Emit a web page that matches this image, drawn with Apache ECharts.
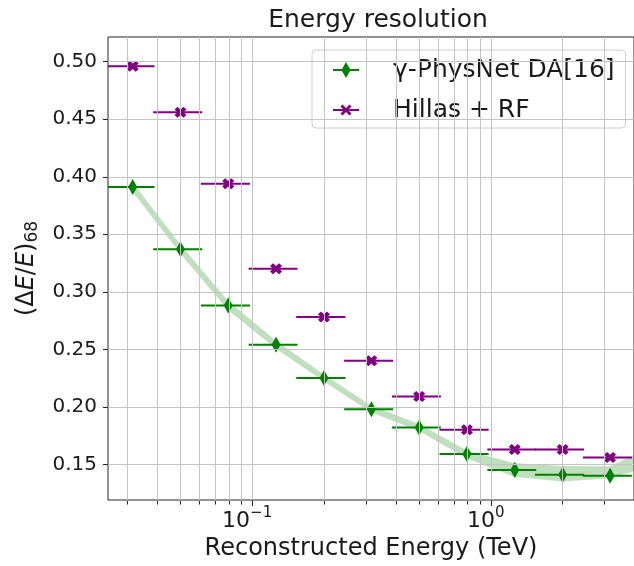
<!DOCTYPE html>
<html>
<head>
<meta charset="utf-8">
<title>Energy resolution</title>
<script src="https://cdn.jsdelivr.net/npm/echarts@6/dist/echarts.min.js"></script>
<style>
  html, body { margin: 0; padding: 0; background: #fff; }
  #main { width: 634px; height: 566px; }
</style>
</head>
<body>
<div id="main"></div>
<script>
// bin centres and ends of the horizontal error bars (TeV)
var energy     = [0.0316, 0.0501, 0.0794, 0.126, 0.200, 0.316, 0.501, 0.794, 1.26, 2.00, 3.16];
var energyLow  = [0.0243, 0.0385, 0.0610, 0.0967, 0.153, 0.243, 0.385, 0.610, 0.967, 1.53, 2.43];
var energyHigh = [0.0390, 0.0618, 0.0979, 0.155, 0.246, 0.390, 0.618, 0.979, 1.55, 2.46, 3.90];

// (dE/E)68 per bin
var physNet  = [0.391, 0.337, 0.288, 0.254, 0.225, 0.198, 0.182, 0.159, 0.145, 0.141, 0.140];
var hillasRF = [0.496, 0.456, 0.394, 0.320, 0.278, 0.240, 0.209, 0.180, 0.163, 0.163, 0.156];

// shaded band around the PhysNet curve (last point is past the right edge)
var bandEnergy = [0.0316, 0.0501, 0.0794, 0.126, 0.200, 0.316, 0.501, 0.794, 1.26, 2.00, 3.16, 5.01];
var bandLow    = [0.3870, 0.3330, 0.2840, 0.2505, 0.2220, 0.1950, 0.1790, 0.1550, 0.1390, 0.1350, 0.1378, 0.1500];
var bandHigh   = [0.3950, 0.3410, 0.2920, 0.2575, 0.2280, 0.2010, 0.1850, 0.1620, 0.1510, 0.1485, 0.1484, 0.1680];

// ticks
var xMajor = [0.1, 1];
var xMinor = [0.03, 0.04, 0.05, 0.06, 0.07, 0.08, 0.09, 0.2, 0.3, 0.4, 0.5, 0.6, 0.7, 0.8, 0.9, 2, 3];
var xGrid  = [0.03, 0.04, 0.05, 0.06, 0.07, 0.08, 0.09, 0.1, 0.2, 0.3, 0.4, 0.5, 0.6, 0.7, 0.8, 0.9, 1, 2, 3];
var yTicks = [0.15, 0.20, 0.25, 0.30, 0.35, 0.40, 0.45, 0.50];

var FONT = 'DejaVu Sans';
var INK = '#1a1a1a';
var GRIDC = '#c4c4c4';
var GREEN = '#008000';
var PURPLE = '#800080';

var diamond = 'path://M5,0L10,10L5,20L0,10Z';
var cross = 'path://M0,2.5L2.5,0L5,2.5L7.5,0L10,2.5L7.5,5L10,7.5L7.5,10L5,7.5L2.5,10L0,7.5L2.5,5Z';

function barSeries(name, low, high, vals, color) {
  return {
    name: name, type: 'custom', z: 3, clip: true, silent: true,
    itemStyle: { color: color },
    data: vals.map(function (v, i) { return [low[i], high[i], v]; }),
    encode: { x: [0, 1], y: 2 },
    renderItem: function (params, api) {
      var a = api.coord([api.value(0), api.value(2)]);
      var b = api.coord([api.value(1), api.value(2)]);
      return { type: 'line', shape: { x1: a[0], y1: a[1], x2: b[0], y2: b[1] },
               style: { stroke: color, lineWidth: 2 } };
    }
  };
}

var chart = echarts.init(document.getElementById('main'));
chart.setOption({
  animation: false,
  textStyle: { fontFamily: FONT },
  title: {
    text: 'Energy resolution', left: 373, textAlign: 'center', top: 3,
    textStyle: { fontSize: 25, fontWeight: 'normal', color: INK, fontFamily: FONT }
  },
  legend: {
    orient: 'vertical', left: 312, top: 50,
    padding: [5, 11, 3, 21], itemGap: 10, itemWidth: 26, itemHeight: 16,
    backgroundColor: 'rgba(255,255,255,0.8)', borderColor: '#cccccc', borderWidth: 1, borderRadius: 4,
    textStyle: { fontSize: 25, color: INK, fontFamily: FONT, lineHeight: 30, padding: [0, 0, 0, 29] },
    data: [
      { name: 'γ-PhysNet DA[16]', icon: 'path://M0,7L9,7L13,0L17,7L26,7L26,9L17,9L13,16L9,9L0,9Z',
        itemStyle: { color: GREEN } },
      { name: 'Hillas + RF', icon: 'path://M0,7H26V9H0Z M7.5,4.5L9.5,2.5L13,6L16.5,2.5L18.5,4.5L15,8L18.5,11.5L16.5,13.5L13,10L9.5,13.5L7.5,11.5L11,8Z',
        itemStyle: { color: PURPLE } }
    ]
  },
  grid: [
    { left: 108, right: -4, top: 37, bottom: 65, show: true, borderColor: '#262626', borderWidth: 1 },
    { left: 108, right: -4, top: 37, bottom: 65 }
  ],
  xAxis: [{
    type: 'log', logBase: 10, min: 0.0249, max: 3.98, gridIndex: 0,
    axisLine: { show: false }, splitLine: { show: false },
    axisTick: { show: true, length: 6, customValues: xMajor, lineStyle: { color: '#262626' } },
    axisLabel: {
      customValues: xMajor, margin: 6, padding: [0, 10, 0, 0],
      formatter: function (v) {
        var p = Math.round(Math.log10(v));
        return '{b|10}{s|' + (p < 0 ? '\u2212' + (-p) : p) + '}';
      },
      rich: {
        b: { fontSize: 22, lineHeight: 26, verticalAlign: 'bottom', color: INK, fontFamily: FONT },
        s: { fontSize: 15, lineHeight: 14, verticalAlign: 'top', color: INK, fontFamily: FONT }
      }
    },
    name: 'Reconstructed Energy (TeV)', nameLocation: 'middle', nameGap: 37,
    nameTextStyle: { fontSize: 24, color: INK, fontFamily: FONT }
  }, {
    type: 'log', logBase: 10, min: 0.0249, max: 3.98, gridIndex: 1,
    axisLine: { show: false }, splitLine: { show: false }, axisLabel: { show: false },
    axisTick: { show: true, length: 3.5, customValues: xMinor, lineStyle: { color: '#262626' } }
  }],
  yAxis: [{
    type: 'value', min: 0.119, max: 0.5215, gridIndex: 0,
    axisLine: { show: false }, splitLine: { show: false },
    axisTick: { show: true, length: 5, customValues: yTicks, lineStyle: { color: '#262626' } },
    axisLabel: {
      customValues: yTicks, margin: 11, fontSize: 20, color: INK, fontFamily: FONT,
      formatter: function (v) { return v.toFixed(2); }
    },
    name: '{t|(Δ}{i|E}{t|/}{i|E}{t|)}{u|68}', nameLocation: 'middle', nameGap: 66, nameRotate: 90,
    nameTextStyle: {
      rich: {
        t: { fontSize: 24, lineHeight: 30, color: INK, fontFamily: FONT },
        i: { fontSize: 24, lineHeight: 30, fontStyle: 'italic', color: INK, fontFamily: FONT },
        u: { fontSize: 17, verticalAlign: 'bottom', color: INK, fontFamily: FONT }
      }
    }
  }, {
    type: 'value', min: 0.119, max: 0.5215, gridIndex: 1, show: false
  }],
  series: [
    {
      // grid lines, placed through the axes
      type: 'line', data: [], z: 1, silent: true,
      markLine: {
        silent: true, symbol: ['none', 'none'], label: { show: false },
        lineStyle: { color: GRIDC, width: 1, type: 'solid' },
        emphasis: { disabled: true },
        data: xGrid.map(function (v) { return { xAxis: v }; })
          .concat(yTicks.map(function (v) { return { yAxis: v }; }))
      }
    },
    {
      type: 'custom', z: 2, clip: true, silent: true,
      data: bandEnergy.map(function (e, i) { return [e, bandLow[i], bandHigh[i]]; }),
      encode: { x: 0, y: [1, 2] },
      renderItem: function (params, api) {
        if (params.dataIndex !== 0) return null;
        var pts = [], i;
        for (i = 0; i < bandEnergy.length; i++) pts.push(api.coord([bandEnergy[i], bandHigh[i]]));
        for (i = bandEnergy.length - 1; i >= 0; i--) pts.push(api.coord([bandEnergy[i], bandLow[i]]));
        return { type: 'polygon', shape: { points: pts }, style: { fill: 'rgba(0,128,0,0.25)' } };
      }
    },
    barSeries('γ-PhysNet DA[16]', energyLow, energyHigh, physNet, GREEN),
    barSeries('Hillas + RF', energyLow, energyHigh, hillasRF, PURPLE),
    {
      name: 'γ-PhysNet DA[16]', type: 'scatter', z: 4, symbol: diamond, symbolSize: [9, 16],
      itemStyle: { color: GREEN, opacity: 1 },
      data: energy.map(function (e, i) { return [e, physNet[i]]; })
    },
    {
      name: 'Hillas + RF', type: 'scatter', z: 4, symbol: cross, symbolSize: [12, 11],
      itemStyle: { color: PURPLE, opacity: 1 },
      data: energy.map(function (e, i) { return [e, hillasRF[i]]; })
    }
  ]
});
</script>
</body>
</html>
